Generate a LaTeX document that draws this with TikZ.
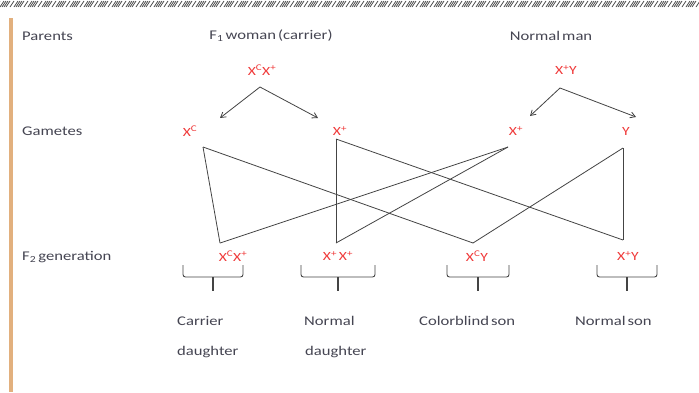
\documentclass[tikz,border=0pt]{standalone}
\usepackage{fontspec}
\setmainfont{Carlito}
\newfontfamily\lblfont[FakeStretch=1.25,WordSpace=0.55]{Carlito}
\usetikzlibrary{arrows.meta}
\definecolor{ink}{HTML}{454552}
\definecolor{gene}{HTML}{F03A3A}
\definecolor{barc}{HTML}{E2B07E}
\definecolor{wire}{HTML}{444444}
\newcommand{\gsup}[1]{\textsuperscript{#1}}

\begin{document}
\begin{tikzpicture}[x=1pt,y=-1pt,
  lbl/.style={font=\lblfont\fontsize{13.3}{15}\selectfont, text=ink, inner sep=0pt, anchor=west},
  geno/.style={font=\lblfont\fontsize{12.5}{14}\selectfont, text=gene, inner sep=0pt},
  cross/.style={draw=wire, line width=0.8pt},
  split/.style={draw=wire, line width=0.8pt, -{Straight Barb[length=5pt,width=6pt]}},
  brace/.style={draw=wire, line width=0.9pt, rounded corners=2.5pt}]

\useasboundingbox (0,0) rectangle (699,392);
\fill[white] (0,0) rectangle (699,392);

% hatched top rule
\foreach \g in {-14,0,...,700} {
  \foreach \j in {0,2,4,6,10}
    \draw[gray!60!black, line width=0.8pt] (\g+\j,7) -- (\g+\j+4,1);
}

% side bar
\fill[barc] (9,18) rectangle (13,392);

% row titles
\node[lbl] (tPar) at (22,36) {Parents};
\node[lbl] (tGam) at (22,131) {Gametes};
\node[lbl] (tF2)  at (22,257) {F\textsubscript{2} generation};

% parents
\node[lbl, anchor=center] (woman) at (271,36) {F\textsubscript{1} woman (carrier)};
\node[lbl, anchor=center] (man)   at (551,36) {Normal man};
\node[geno] (pw) at (262,70) {X\gsup{C}X\gsup{+}};
\node[geno] (pm) at (566,70) {X\gsup{+}Y};

% gametes
\node[geno] (gC)  at (190,131) {X\gsup{C}};
\node[geno] (gPm) at (340,131) {X\gsup{+}};
\node[geno] (gPf) at (516,131) {X\gsup{+}};
\node[geno] (gY)  at (626,131) {Y};

% offspring
\node[geno] (oCP) at (233,256) {X\gsup{C}X\gsup{+}};
\node[geno] (oPP) at (338,256) {X\gsup{+} X\gsup{+}};
\node[geno] (oCY) at (477,256) {X\gsup{C}Y};
\node[geno] (oPY) at (628,256) {X\gsup{+}Y};

% phenotypes
\node[lbl] (d1a) at (177,321) {Carrier};
\node[lbl] (d1b) at (177,352) {daughter};
\node[lbl] (d2a) at (304,321) {Normal};
\node[lbl] (d2b) at (305,352) {daughter};
\node[lbl] (s1)  at (419,321) {Colorblind son};
\node[lbl] (s2)  at (575,321) {Normal son};

% meiosis arrows
\coordinate (pwJ) at (260,87);
\coordinate (pwL) at (220,118);
\coordinate (pwR) at (318,118);
\coordinate (pmJ) at (560,88);
\coordinate (pmL) at (530,116);
\coordinate (pmR) at (636,117);
\draw[split] (pwJ) -- (pwL);
\draw[split] (pwJ) -- (pwR);
\draw[split] (pmJ) -- (pmL);
\draw[split] (pmJ) -- (pmR);

% fertilisation lines
\coordinate (aC)  at (203,147);
\coordinate (aPm) at (336,139);
\coordinate (aPf) at (508,147);
\coordinate (aY)  at (623,148);
\coordinate (bCP) at (220,243);
\coordinate (bPP) at (336,243);
\coordinate (bCY) at (473,243);
\coordinate (bPY) at (623,240);
\draw[cross] (aC) -- (bCP);
\draw[cross] (aC) -- (bCY);
\draw[cross, line width=1pt] (aPm) -- (bPP);
\draw[cross] (aPm) -- (bPY);
\draw[cross] (aPf) -- (bCP);
\draw[cross] (aPf) -- (bPP);
\draw[cross] (aY) -- (bCY);
\draw[cross, line width=1pt] (aY) -- (bPY);

% braces under offspring
\foreach \l/\r in {183/243, 301/375, 447/509, 597/657} {
  \draw[brace] (\l,265) -- (\l,277) -- (\r,277) -- (\r,265);
  \draw[draw=wire, line width=1.1pt] ({(\l+\r)/2},277) -- ({(\l+\r)/2},291);
}
\end{tikzpicture}
\end{document}
